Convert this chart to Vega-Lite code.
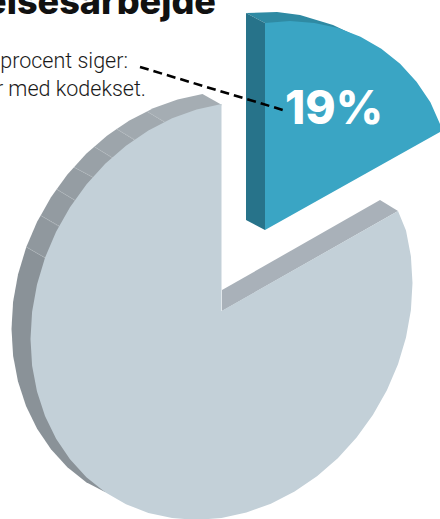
{"$schema":"https://vega.github.io/schema/vega-lite/v6.json","width":440,"height":519,"padding":0,"autosize":{"type":"none"},"background":"white","config":{"view":{"stroke":null}},"encoding":{"x":{"field":"x","type":"quantitative","axis":null,"scale":{"domain":[0,440],"nice":false,"zero":false}},"y":{"field":"y","type":"quantitative","axis":null,"scale":{"domain":[519,0],"nice":false,"zero":false}}},"layer":[{"data":{"values":[
{"p":"s1","i":0,"x":202.5,"y":94},{"p":"s1","i":1,"x":177.6,"y":99.5},{"p":"s1","i":2,"x":153.1,"y":108.3},{"p":"s1","i":3,"x":147,"y":111.4},{"p":"s1","i":4,"x":166,"y":123},{"p":"s1","i":5,"x":222,"y":105},
{"p":"s2","i":0,"x":147,"y":111.4},{"p":"s2","i":1,"x":129.4,"y":120.5},{"p":"s2","i":2,"x":116.7,"y":129.1},{"p":"s2","i":3,"x":136,"y":141},{"p":"s2","i":4,"x":166,"y":123},
{"p":"s3","i":0,"x":116.7,"y":129.1},{"p":"s3","i":1,"x":107,"y":135.7},{"p":"s3","i":2,"x":94.3,"y":146.7},{"p":"s3","i":3,"x":113,"y":158},{"p":"s3","i":4,"x":136,"y":141},
{"p":"s4","i":0,"x":94.3,"y":146.7},{"p":"s4","i":1,"x":86.2,"y":153.8},{"p":"s4","i":2,"x":74,"y":167.2},{"p":"s4","i":3,"x":94,"y":178},{"p":"s4","i":4,"x":113,"y":158},
{"p":"s5","i":0,"x":74,"y":167.2},{"p":"s5","i":1,"x":67.4,"y":174.4},{"p":"s5","i":2,"x":56.7,"y":189.3},{"p":"s5","i":3,"x":76,"y":201},{"p":"s5","i":4,"x":94,"y":178},
{"p":"s6","i":0,"x":56.7,"y":189.3},{"p":"s6","i":1,"x":51,"y":197.2},{"p":"s6","i":2,"x":40.7,"y":215.4},{"p":"s6","i":3,"x":61,"y":227},{"p":"s6","i":4,"x":76,"y":201},
{"p":"s7","i":0,"x":40.7,"y":215.4},{"p":"s7","i":1,"x":37.1,"y":221.7},{"p":"s7","i":2,"x":26.3,"y":247},{"p":"s7","i":3,"x":47,"y":259},{"p":"s7","i":4,"x":61,"y":227},
{"p":"s8","i":0,"x":26.3,"y":247},{"p":"s8","i":1,"x":18,"y":274.4},{"p":"s8","i":2,"x":13.1,"y":301.8},{"p":"s8","i":3,"x":11.5,"y":329},{"p":"s8","i":4,"x":13.1,"y":355.8},{"p":"s8","i":5,"x":18,"y":381.6},{"p":"s8","i":6,"x":26,"y":406.1},{"p":"s8","i":7,"x":37.1,"y":428.7},{"p":"s8","i":8,"x":51,"y":449.2},{"p":"s8","i":9,"x":67.4,"y":467.2},{"p":"s8","i":10,"x":86.2,"y":482.2},{"p":"s8","i":11,"x":105,"y":492},{"p":"s8","i":12,"x":100,"y":300},{"p":"s8","i":13,"x":47,"y":259},
{"p":"wall","i":0,"x":222,"y":290},{"p":"wall","i":1,"x":380,"y":200},{"p":"wall","i":2,"x":398,"y":211},{"p":"wall","i":3,"x":222,"y":311},
{"p":"face","i":0,"x":221.5,"y":311},{"p":"face","i":1,"x":398,"y":211},{"p":"face","i":2,"x":406,"y":230.4},{"p":"face","i":3,"x":410.9,"y":256.2},{"p":"face","i":4,"x":412.5,"y":283},{"p":"face","i":5,"x":410.9,"y":310.2},{"p":"face","i":6,"x":406,"y":337.6},{"p":"face","i":7,"x":398,"y":364.3},{"p":"face","i":8,"x":386.9,"y":390.3},{"p":"face","i":9,"x":373,"y":414.8},{"p":"face","i":10,"x":356.6,"y":437.6},{"p":"face","i":11,"x":337.8,"y":458.2},{"p":"face","i":12,"x":317,"y":476.3},{"p":"face","i":13,"x":294.6,"y":491.5},{"p":"face","i":14,"x":270.9,"y":503.7},{"p":"face","i":15,"x":246.4,"y":512.5},{"p":"face","i":16,"x":221.5,"y":518},{"p":"face","i":17,"x":196.6,"y":519.9},{"p":"face","i":18,"x":172.1,"y":518.1},{"p":"face","i":19,"x":148.4,"y":512.9},{"p":"face","i":20,"x":126,"y":504.3},{"p":"face","i":21,"x":105.2,"y":492.2},{"p":"face","i":22,"x":86.4,"y":477.2},{"p":"face","i":23,"x":70,"y":459.2},{"p":"face","i":24,"x":56.1,"y":438.7},{"p":"face","i":25,"x":45,"y":416.1},{"p":"face","i":26,"x":37,"y":391.6},{"p":"face","i":27,"x":32.1,"y":365.8},{"p":"face","i":28,"x":30.5,"y":339},{"p":"face","i":29,"x":32.1,"y":311.8},{"p":"face","i":30,"x":37,"y":284.4},{"p":"face","i":31,"x":45,"y":257.7},{"p":"face","i":32,"x":56.1,"y":231.7},{"p":"face","i":33,"x":70,"y":207.2},{"p":"face","i":34,"x":86.4,"y":184.4},{"p":"face","i":35,"x":105.2,"y":163.8},{"p":"face","i":36,"x":126,"y":145.7},{"p":"face","i":37,"x":148.4,"y":130.5},{"p":"face","i":38,"x":172.1,"y":118.3},{"p":"face","i":39,"x":196.6,"y":109.5},{"p":"face","i":40,"x":221.5,"y":104},
{"p":"blueTop","i":0,"x":246,"y":13},{"p":"blueTop","i":1,"x":277,"y":12},{"p":"blueTop","i":2,"x":300,"y":15},{"p":"blueTop","i":3,"x":333,"y":25},{"p":"blueTop","i":4,"x":352,"y":34},{"p":"blueTop","i":5,"x":265,"y":23},
{"p":"blueSide","i":0,"x":246,"y":13},{"p":"blueSide","i":1,"x":265,"y":23},{"p":"blueSide","i":2,"x":265,"y":230},{"p":"blueSide","i":3,"x":246,"y":220},
{"p":"blueFace","i":0,"x":265,"y":230},{"p":"blueFace","i":1,"x":265,"y":23},{"p":"blueFace","i":2,"x":289.9,"y":21.1},{"p":"blueFace","i":3,"x":314.4,"y":22.9},{"p":"blueFace","i":4,"x":338.1,"y":28.1},{"p":"blueFace","i":5,"x":360.5,"y":36.7},{"p":"blueFace","i":6,"x":381.3,"y":48.8},{"p":"blueFace","i":7,"x":400.1,"y":63.8},{"p":"blueFace","i":8,"x":416.5,"y":81.8},{"p":"blueFace","i":9,"x":430.4,"y":102.3},{"p":"blueFace","i":10,"x":440.5,"y":125},{"p":"blueFace","i":11,"x":443,"y":130.3}
]},"mark":{"type":"line","filled":true,"strokeWidth":0,"interpolate":"linear"},"encoding":{"order":{"field":"i","type":"quantitative"},"detail":{"field":"p"},"fill":{"field":"p","type":"nominal","legend":null,"scale":{"domain":["s1","s2","s3","s4","s5","s6","s7","s8","wall","face","blueTop","blueSide","blueFace"],"range":["#a5adb3","#a1a9af","#9da5ab","#99a1a7","#959da3","#939ba1","#90989e","#8a9298","#a9b1b9","#c3d0d8","#2f8aa3","#27738a","#3aa5c4"]}}}},
{"data":{"values":[
{"k":"t1","x":147,"y":111.4},{"k":"t1","x":165,"y":122},{"k":"t2","x":116.7,"y":129.1},{"k":"t2","x":135,"y":139.6},{"k":"t3","x":94.3,"y":146.7},{"k":"t3","x":112,"y":157.9},{"k":"t4","x":74,"y":167.2},{"k":"t4","x":93,"y":177.2},{"k":"t5","x":56.7,"y":189.3},{"k":"t5","x":75,"y":200.2},{"k":"t6","x":40.7,"y":215.4},{"k":"t6","x":59,"y":226.6},{"k":"t7","x":26.3,"y":247},{"k":"t7","x":45,"y":257.7}
]},"mark":{"type":"line","stroke":"#b4bbc0","strokeWidth":0.4},"encoding":{"detail":{"field":"k"}}},
{"data":{"values":[{"x":140,"y":67},{"x":283,"y":110}]},"mark":{"type":"line","stroke":"#000000","strokeWidth":2.6,"strokeDash":[9,5]},"encoding":{}},
{"data":{"values":[{"label":"reisesarbejde","x":216,"y":14}]},"mark":{"type":"text","font":"Inter","fontWeight":800,"fontSize":36,"align":"right","baseline":"alphabetic","fill":"#111111"},"encoding":{"text":{"field":"label"}}},
{"data":{"values":[{"label":"procent siger:","x":128,"y":68},{"label":"r med kodekset.","x":146,"y":96}]},"mark":{"type":"text","font":"Roboto","fontWeight":300,"fontSize":21.5,"align":"right","baseline":"alphabetic","fill":"#1a1a1a"},"encoding":{"text":{"field":"label"}}},
{"data":{"values":[{"label":"19%","x":334,"y":124}]},"mark":{"type":"text","font":"Inter","fontWeight":800,"fontSize":46,"align":"center","baseline":"alphabetic","fill":"#ffffff"},"encoding":{"text":{"field":"label"}}}
]}
